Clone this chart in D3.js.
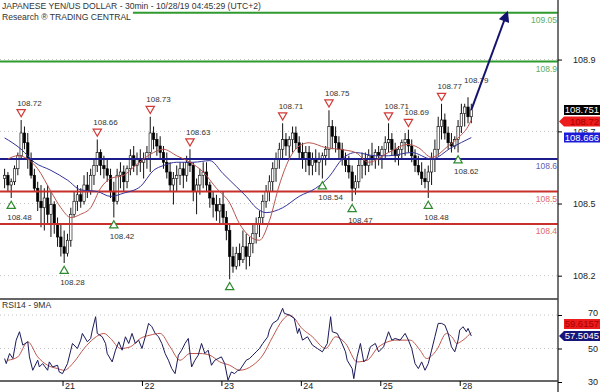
<!DOCTYPE html>
<html>
<head>
<meta charset="utf-8">
<script src="https://cdn.jsdelivr.net/npm/d3@7"></script>
<style>
  body { margin: 0; background: #fff; }
  svg { display: block; font-family: "Liberation Sans", Arial, sans-serif; }
</style>
</head>
<body>
<script>
var w = 600, h = 392;

// hourly bars, Fri 18 Oct 06:00 -> Mon 28 Oct 04:00 (UTC+2), weekend removed
var barOpen = [
  108.54,108.55,108.52,108.53,108.57,108.61,108.68,108.65,108.60,108.55,
  108.51,108.47,108.45,108.48,108.43,108.46,108.40,108.36,108.33,108.31,
  108.35,108.43,108.47,108.49,108.47,108.52,108.50,108.55,108.58,108.62,
  108.58,108.57,108.55,108.50,108.47,108.55,108.56,108.53,108.57,108.61,
  108.58,108.60,108.59,108.60,108.62,108.68,108.66,108.64,108.62,108.59,
  108.56,108.52,108.54,108.55,108.57,108.55,108.59,108.58,108.50,108.52,
  108.55,108.56,108.52,108.48,108.46,108.44,108.46,108.42,108.38,108.30,
  108.27,108.31,108.29,108.33,108.30,108.34,108.37,108.40,108.42,108.47,
  108.50,108.53,108.57,108.60,108.63,108.66,108.64,108.66,108.68,108.65,
  108.62,108.60,108.62,108.58,108.60,108.59,108.60,108.61,108.63,108.70,
  108.67,108.65,108.63,108.60,108.58,108.56,108.51,108.53,108.58,108.60,
  108.58,108.61,108.60,108.62,108.61,108.63,108.65,108.66,108.63,108.61,
  108.63,108.65,108.66,108.64,108.61,108.58,108.56,108.54,108.53,108.56,
  108.60,108.63,108.70,108.72,108.68,108.65,108.64,108.66,108.70,108.74,
  108.76,108.73];
var barHigh = [
  108.57,108.56,108.54,108.58,108.62,108.72,108.70,108.68,108.62,108.57,
  108.53,108.52,108.51,108.52,108.50,108.47,108.42,108.40,108.38,108.37,
  108.45,108.50,108.52,108.51,108.55,108.56,108.57,108.60,108.66,108.63,
  108.61,108.60,108.57,108.53,108.57,108.59,108.58,108.58,108.63,108.64,
  108.62,108.63,108.62,108.64,108.73,108.70,108.68,108.67,108.64,108.62,
  108.59,108.56,108.58,108.59,108.59,108.61,108.63,108.59,108.54,108.57,
  108.59,108.59,108.53,108.50,108.49,108.48,108.50,108.44,108.40,108.33,
  108.33,108.34,108.38,108.37,108.36,108.40,108.42,108.44,108.49,108.52,
  108.55,108.59,108.62,108.65,108.71,108.68,108.67,108.70,108.70,108.67,
  108.65,108.64,108.64,108.62,108.63,108.62,108.62,108.64,108.75,108.72,
  108.70,108.67,108.65,108.62,108.61,108.58,108.55,108.60,108.62,108.62,
  108.63,108.65,108.63,108.64,108.64,108.67,108.71,108.68,108.65,108.64,
  108.66,108.68,108.69,108.66,108.63,108.61,108.59,108.57,108.58,108.62,
  108.66,108.73,108.77,108.74,108.70,108.68,108.67,108.72,108.77,108.77,
  108.79,108.77];
var barLow = [
  108.51,108.50,108.48,108.52,108.55,108.60,108.63,108.57,108.54,108.50,
  108.44,108.39,108.38,108.40,108.36,108.37,108.33,108.30,108.28,108.30,
  108.33,108.42,108.44,108.45,108.46,108.48,108.49,108.52,108.56,108.55,
  108.54,108.53,108.48,108.42,108.46,108.51,108.50,108.51,108.55,108.56,
  108.55,108.56,108.54,108.57,108.56,108.63,108.61,108.60,108.57,108.54,
  108.50,108.46,108.50,108.52,108.51,108.53,108.56,108.47,108.43,108.49,
  108.51,108.50,108.45,108.42,108.41,108.40,108.40,108.35,108.23,108.25,
  108.26,108.27,108.28,108.26,108.27,108.31,108.34,108.36,108.40,108.45,
  108.47,108.50,108.53,108.57,108.60,108.61,108.60,108.62,108.63,108.60,
  108.57,108.56,108.55,108.55,108.56,108.55,108.54,108.58,108.60,108.63,
  108.62,108.60,108.58,108.56,108.54,108.47,108.49,108.51,108.54,108.55,
  108.56,108.58,108.57,108.58,108.57,108.60,108.62,108.61,108.59,108.58,
  108.60,108.61,108.62,108.59,108.56,108.55,108.52,108.51,108.48,108.52,
  108.56,108.61,108.66,108.66,108.63,108.62,108.63,108.62,108.68,108.70,
  108.71,108.71];
var barClose = [
  108.55,108.52,108.53,108.57,108.61,108.68,108.65,108.60,108.55,108.51,
  108.47,108.45,108.48,108.43,108.46,108.40,108.36,108.33,108.31,108.35,
  108.43,108.47,108.49,108.47,108.52,108.50,108.55,108.58,108.62,108.58,
  108.57,108.55,108.50,108.47,108.55,108.56,108.53,108.57,108.61,108.58,
  108.60,108.59,108.60,108.62,108.68,108.66,108.64,108.62,108.59,108.56,
  108.52,108.54,108.55,108.57,108.55,108.59,108.58,108.50,108.52,108.55,
  108.56,108.52,108.48,108.46,108.44,108.46,108.42,108.38,108.30,108.27,
  108.31,108.29,108.33,108.30,108.34,108.37,108.40,108.42,108.47,108.50,
  108.53,108.57,108.60,108.63,108.66,108.64,108.66,108.68,108.65,108.62,
  108.60,108.62,108.58,108.60,108.59,108.60,108.61,108.63,108.70,108.67,
  108.65,108.63,108.60,108.58,108.56,108.51,108.53,108.58,108.60,108.58,
  108.61,108.60,108.62,108.61,108.63,108.65,108.66,108.63,108.61,108.63,
  108.65,108.66,108.64,108.61,108.58,108.56,108.54,108.53,108.56,108.60,
  108.63,108.70,108.72,108.68,108.65,108.64,108.66,108.70,108.74,108.76,
  108.73,108.751];

// moving averages: [bar, value]
var fastMA = [[1,108.60],[4,108.61],[10,108.57],[14,108.50],[17,108.45],[20,108.42],[23,108.43],
  [26,108.45],[29,108.51],[32,108.54],[36,108.55],[39,108.575],[45,108.62],[48,108.63],[52,108.61],
  [56,108.59],[60,108.56],[64,108.51],[68,108.465],[71,108.40],[77,108.35],[80,108.41],[83,108.52],
  [86,108.60],[89,108.64],[92,108.65],[97,108.635],[101,108.63],[106,108.62],[110,108.59],[116,108.62],
  [122,108.645],[125,108.635],[129,108.605],[134,108.64],[137,108.665],[140,108.70],[141,108.72]];
var slowMA = [[0,108.665],[5,108.63],[9,108.59],[14,108.565],[19,108.535],[23,108.505],[28,108.50],
  [32,108.485],[36,108.495],[41,108.515],[45,108.565],[48,108.58],[52,108.59],[57,108.59],[62,108.595],
  [66,108.555],[70,108.515],[73,108.485],[76,108.45],[79,108.435],[84,108.45],[89,108.485],[94,108.51],
  [98,108.545],[102,108.60],[106,108.62],[112,108.61],[116,108.61],[123,108.62],[129,108.60],
  [135,108.635],[141,108.666]];

// key levels
var levelValues = [109.05, 108.9, 108.6, 108.5, 108.4];
var levelRoles = ["target", "target", "pivot", "support", "support"];

// swing points (bar index), values come from the bars
var pivotHighIdx = [5, 28, 44, 56, 84, 98, 116, 122, 132, 140];
var pivotHighNoMark = [140];
var pivotLowIdx = [2, 18, 33, 68, 96, 105, 128, 137];
var pivotLowNoLabel = [68];

// projection
var projIdx = [141, 151.8];
var projVal = [108.751, 109.05];

// RSI14 (30min), [bar, value]
var rsi = [[0,44],[0.5,41],[1.5,47],[2.5,44],[3.5,55],[4.5,60],[5.5,52],[7,54],[7.5,45],[8.5,37],
  [10,43],[10.5,39],[11.5,41],[13,37],[13.5,42],[14.5,39],[16,40],[16.5,36],[17.5,35],[19,41],
  [20,49],[20.5,53],[22,50],[23,55],[23.5,59],[25,54],[26,56],[26.5,61],[27.5,69],[28,59],
  [29.5,57],[30.5,53],[31,47],[32.5,42],[33.5,49],[34.5,54],[35.5,49],[36.5,57],[37.5,53],[38.5,59],
  [39.5,53],[40.5,55],[41.5,50],[42.5,57],[43.5,65],[44.5,63],[45.5,59],[46.5,57],[47.5,53],[48.5,47],
  [49.5,43],[50.5,38],[51.5,35],[52.5,46],[53.5,49],[54.5,53],[55.5,56],[56.5,39],[57.5,43],[58.5,46],
  [59.5,53],[60.5,47],[61.5,49],[62.5,40],[63.5,43],[64.5,44],[65.5,45],[66.5,41],[67.5,31],[68.5,36],
  [69.5,35],[70.5,37],[71,37],[73,43],[74,44],[75,46],[76,48],[77,50],[78,53],[79.5,57],
  [80,61],[81,65],[82.5,67],[84,74],[84.5,71],[86,70],[87.5,68],[88.5,59],[89,62],[90,55],
  [91.5,57],[93,52],[94.5,50],[96,48],[97.5,53],[98.5,69],[99,60],[100.5,59],[101.5,55],[103,48],
  [103.5,43],[105,38],[105.5,32],[106.5,45],[107.5,53],[108.5,42],[109.5,44],[110.5,51],[112,53],[113,48],
  [114.5,51],[116,60],[117,55],[118,56],[119.5,55],[121,59],[122,55],[123,50],[124,41],[125,38],
  [126,42],[127,37],[128,41],[129,49],[130,57],[131,65],[132,65],[133,64],[134,59],[135,51],
  [136,48],[137,55],[137.5,61],[138.5,63],[139.5,60],[140,62],[141,57.5045]];
var rsiMA = [[1,43],[4,45],[7,54],[10,45],[13,40],[16,38],[18,37],[21,42],[24,50],[27,56],
  [30,59],[32,56],[35,50],[38,51],[41,56],[44,58],[47,59],[50,51],[53,43],[56,47],
  [59,47],[62,46],[65,42],[68,40],[71,37],[75,40],[78,46],[81,57],[84,67],[86,70],
  [88,67],[89,64],[93,57],[97,50],[100,57],[103,53],[106.5,42],[109.5,43],[113,51],[118.5,55],
  [122.5,55],[125.5,49],[127.5,44],[130.5,49],[133.5,59],[135.5,56],[136.5,53],[138.5,55],[141,59.6157]];

// axes
var priceTicks = [108.906, 108.685, 108.463, 108.241];
var rsiTicks = [70, 50, 30];
var dayStartIdx = [18, 42, 66, 90, 114, 138];
var dayLabels = ["21", "22", "23", "24", "25", "28"];

var titleText = "JAPANESE YEN/US DOLLAR - 30min - 10/28/19 04:45:29 (UTC+2)";
var subtitleText = "Research \u00ae TRADING CENTRAL";

var axisX = 558, mainBottom = 299, rsiBottom = 381;
var roleColor = { target: "#2f9a2f", pivot: "#1c1c8a", support: "#c8302c" };
var roleLabel = { target: "#62ac62", pivot: "#6262b4", support: "#e06a6a" };

var svg = d3.select("body").append("svg").attr("width", w).attr("height", h);

var x = d3.scaleLinear().domain([0, 141]).range([4.6, 4.6 + 141 * 3.31]);
var y = d3.scaleLinear().domain([108.4, 109.05]).range([224, 12.75]);
var yR = d3.scaleLinear().domain([30, 70]).range([382, 315]);

var defs = svg.append("defs");
defs.append("clipPath").attr("id", "mainclip").append("rect")
  .attr("x", 0).attr("y", 0).attr("width", axisX).attr("height", mainBottom - 1);
defs.append("clipPath").attr("id", "rsiclip").append("rect")
  .attr("x", 0).attr("y", mainBottom + 1).attr("width", axisX).attr("height", rsiBottom - mainBottom - 1);
defs.append("marker").attr("id", "ah")
  .attr("viewBox", "0 0 10 10").attr("refX", 8).attr("refY", 5)
  .attr("markerWidth", 6.5).attr("markerHeight", 5.5)
  .attr("orient", "auto")
  .append("path").attr("d", "M0,0 L10,5 L0,10 z").attr("fill", "#14146e");

// grid
svg.selectAll("line.grid").data(priceTicks).enter().append("line")
  .attr("class", "grid")
  .attr("x1", 0).attr("x2", axisX)
  .attr("y1", d => y(d)).attr("y2", d => y(d))
  .attr("stroke", "#c4c4c4").attr("stroke-dasharray", "1,3");
svg.selectAll("line.rgrid").data([70, 50]).enter().append("line")
  .attr("class", "rgrid")
  .attr("x1", 0).attr("x2", axisX)
  .attr("y1", d => yR(d)).attr("y2", d => yR(d))
  .attr("stroke", "#c4c4c4").attr("stroke-dasharray", "1,3");

var main = svg.append("g").attr("clip-path", "url(#mainclip)");

var bars = barOpen.map((o, i) => ({ i: i, o: o, h: barHigh[i], l: barLow[i], c: barClose[i] }));

main.selectAll("line.wick").data(bars).enter().append("line")
  .attr("class", "wick")
  .attr("x1", d => x(d.i)).attr("x2", d => x(d.i))
  .attr("y1", d => y(d.h)).attr("y2", d => y(d.l))
  .attr("stroke", "#111").attr("stroke-width", 1);

main.selectAll("rect.body").data(bars).enter().append("rect")
  .attr("class", "body")
  .attr("x", d => x(d.i) - 1.2).attr("width", 2.4)
  .attr("y", d => y(Math.max(d.o, d.c)))
  .attr("height", d => Math.max(1, Math.abs(y(d.o) - y(d.c))))
  .attr("fill", d => d.c >= d.o ? "#fff" : "#000")
  .attr("stroke", "#000").attr("stroke-width", 0.6);

// levels
main.selectAll("line.level").data(levelValues).enter().append("line")
  .attr("class", "level")
  .attr("x1", 0).attr("x2", axisX)
  .attr("y1", d => y(d)).attr("y2", d => y(d))
  .attr("stroke", (d, i) => roleColor[levelRoles[i]]).attr("stroke-width", 2);

main.selectAll("text.level").data(levelValues).enter().append("text")
  .attr("class", "level")
  .attr("x", axisX - 1).attr("y", d => y(d) + 10)
  .attr("text-anchor", "end").attr("font-size", "8.5px")
  .attr("fill", (d, i) => roleLabel[levelRoles[i]])
  .text(d => d3.format("~f")(d));

// moving averages
var maLine = d3.line().x(d => x(d[0])).y(d => y(d[1])).curve(d3.curveMonotoneX);
main.append("path").datum(slowMA).attr("d", maLine)
  .attr("fill", "none").attr("stroke", "#34349a").attr("stroke-width", 1);
main.append("path").datum(fastMA).attr("d", maLine)
  .attr("fill", "none").attr("stroke", "#b8544c").attr("stroke-width", 1);

// pivots
var tri = d3.symbol().type(d3.symbolTriangle).size(30);
var highs = pivotHighIdx.map(i => ({ i: i, v: barHigh[i] }));
var lows = pivotLowIdx.map(i => ({ i: i, v: barLow[i] }));

main.selectAll("path.ph").data(highs.filter(d => pivotHighNoMark.indexOf(d.i) < 0)).enter().append("path")
  .attr("class", "ph").attr("d", tri)
  .attr("transform", d => `translate(${x(d.i)},${y(d.v) - 8}) rotate(180)`)
  .attr("fill", "#fff").attr("stroke", "#d23a36").attr("stroke-width", 1.2);
main.selectAll("text.ph").data(highs).enter().append("text")
  .attr("class", "ph")
  .attr("x", d => x(d.i) - 4).attr("y", d => y(d.v) - 14.5)
  .attr("font-size", "8px").attr("fill", "#333")
  .text(d => d3.format(".2f")(d.v));

main.selectAll("path.pl").data(lows).enter().append("path")
  .attr("class", "pl").attr("d", tri)
  .attr("transform", d => `translate(${x(d.i)},${y(d.v) + 8})`)
  .attr("fill", "#fff").attr("stroke", "#2e8a2e").attr("stroke-width", 1.2);
main.selectAll("text.pl").data(lows.filter(d => pivotLowNoLabel.indexOf(d.i) < 0)).enter().append("text")
  .attr("class", "pl")
  .attr("x", d => x(d.i) - 4).attr("y", d => y(d.v) + 21.5)
  .attr("font-size", "8px").attr("fill", "#333")
  .text(d => d3.format(".2f")(d.v));

// projection arrow
main.append("line")
  .attr("x1", x(projIdx[0])).attr("y1", y(projVal[0]))
  .attr("x2", x(projIdx[1])).attr("y2", y(projVal[1]))
  .attr("stroke", "#14146e").attr("stroke-width", 2)
  .attr("marker-end", "url(#ah)");

// title block
var tg = svg.append("g");
var sub = tg.append("text").attr("x", 2).attr("y", 20).attr("font-size", "8.6px").attr("fill", "#333").text(subtitleText);
var sw = sub.node().getComputedTextLength();
tg.insert("rect", "text").attr("x", 0).attr("y", 11).attr("width", sw + 4).attr("height", 11).attr("fill", "#fff");
tg.append("text").attr("x", 2).attr("y", 9).attr("font-size", "8.6px").attr("fill", "#333").text(titleText);

// RSI panel
var rp = svg.append("g").attr("clip-path", "url(#rsiclip)");
rp.append("path").datum(rsiMA).attr("d", d3.line().x(d => x(d[0])).y(d => yR(d[1])).curve(d3.curveMonotoneX))
  .attr("fill", "none").attr("stroke", "#c0564c").attr("stroke-width", 1);
rp.append("path").datum(rsi).attr("d", d3.line().x(d => x(d[0])).y(d => yR(d[1])))
  .attr("fill", "none").attr("stroke", "#1a1a5a").attr("stroke-width", 1);
svg.append("text").attr("x", 2).attr("y", 308).attr("font-size", "8.6px").attr("fill", "#333").text("RSI14 - 9MA");

// frame lines
svg.append("line").attr("x1", 0).attr("x2", axisX).attr("y1", mainBottom).attr("y2", mainBottom)
  .attr("stroke", "#333").attr("stroke-width", 1.5);
svg.append("line").attr("x1", 0).attr("x2", axisX).attr("y1", rsiBottom).attr("y2", rsiBottom)
  .attr("stroke", "#333").attr("stroke-width", 1.5);
svg.append("line").attr("x1", axisX).attr("x2", axisX).attr("y1", 0).attr("y2", h)
  .attr("stroke", "#444").attr("stroke-width", 1.5);

// price axis
var ya = svg.append("g").attr("transform", `translate(${axisX},0)`)
  .call(d3.axisRight(y).tickValues(priceTicks).tickFormat(d3.format(".1f")).tickSize(4).tickPadding(11));
ya.select(".domain").remove();
ya.selectAll("text").attr("font-size", "9px").attr("fill", "#222").attr("font-family", "Liberation Sans, Arial, sans-serif");

var ra = svg.append("g").attr("transform", `translate(${axisX},0)`)
  .call(d3.axisRight(yR).tickValues(rsiTicks).tickSize(4).tickPadding(26));
ra.select(".domain").remove();
ra.selectAll("text").attr("font-size", "9px").attr("fill", "#222").attr("font-family", "Liberation Sans, Arial, sans-serif");
ra.selectAll(".tick").filter(d => d === 70).select("text").attr("dy", "0.1em");

// date axis
var xa = svg.append("g").attr("transform", `translate(0,${rsiBottom})`)
  .call(d3.axisBottom(x).tickValues(dayStartIdx.map(d => d - 0.5))
    .tickFormat((d, i) => dayLabels[i]).tickSize(5).tickPadding(1));
xa.select(".domain").remove();
xa.selectAll("text").attr("text-anchor", "start").attr("x", 2).attr("y", 2).attr("dy", "0.71em")
  .attr("font-size", "9px").attr("fill", "#222").attr("font-family", "Liberation Sans, Arial, sans-serif");

// value tags on the right
function drawTag(yc, label, bg, fg, arrow) {
  var x0 = 564, x1 = 600, hh = 5;
  var d = arrow
    ? `M559,${yc} L${x0},${yc - hh} L${x1},${yc - hh} L${x1},${yc + hh} L${x0},${yc + hh} Z`
    : `M${x0},${yc - hh} L${x1},${yc - hh} L${x1},${yc + hh} L${x0},${yc + hh} Z`;
  svg.append("path").attr("d", d).attr("fill", bg);
  svg.append("text").attr("x", 599).attr("y", yc + 3.4).attr("text-anchor", "end")
    .attr("font-size", "9.5px").attr("fill", fg).text(label);
}
function place(fixedY, yv, up) {
  if (Math.abs(yv - fixedY) < 11) return up ? fixedY - 12 : fixedY + 11.5;
  return yv;
}
var fmt = d3.format(".3~f");
var lastClose = barClose[barClose.length - 1];
var fastLast = fastMA[fastMA.length - 1][1];
var slowLast = slowMA[slowMA.length - 1][1];
var yLast = y(lastClose);
drawTag(yLast, fmt(lastClose), "#000", "#fff", false);
drawTag(place(yLast, y(fastLast), fastLast > lastClose), fmt(fastLast), "#ec1c1c", "#a80000", true);
drawTag(place(yLast, y(slowLast), slowLast > lastClose), fmt(slowLast), "#1c1cd8", "#fff", false);

var rsiLast = rsi[rsi.length - 1][1];
var rsiMALast = rsiMA[rsiMA.length - 1][1];
var yRl = yR(rsiLast);
drawTag(place(yRl, yR(rsiMALast), rsiMALast > rsiLast), d3.format(".4f")(rsiMALast), "#ec1c1c", "#a80000", false);
drawTag(yRl, d3.format(".4f")(rsiLast), "#16167a", "#fff", true);
</script>
</body>
</html>
